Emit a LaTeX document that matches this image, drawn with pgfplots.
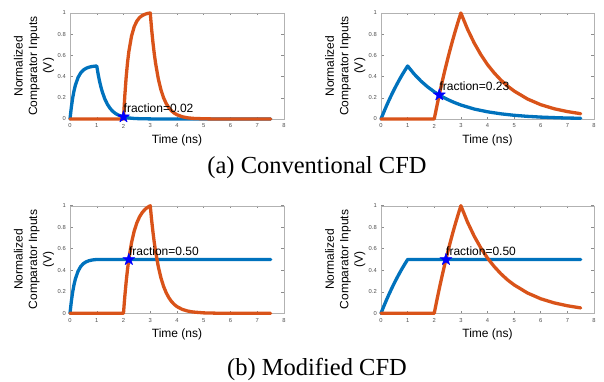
\documentclass[border=0pt]{standalone}
\usepackage{fontspec}
\setmainfont{Liberation Sans}
\newfontfamily\capfont{Liberation Serif}
\usepackage{pgfplots}
\pgfplotsset{compat=1.18}
\definecolor{mblue}{RGB}{0,114,189}
\definecolor{morange}{RGB}{217,83,25}
\pgfdeclareplotmark{pentagram}{%
  \pgfpathmoveto{\pgfpointpolar{90}{\pgfplotmarksize}}%
  \pgfpathlineto{\pgfpointpolar{126}{0.382*\pgfplotmarksize}}%
  \pgfpathlineto{\pgfpointpolar{162}{\pgfplotmarksize}}%
  \pgfpathlineto{\pgfpointpolar{198}{0.382*\pgfplotmarksize}}%
  \pgfpathlineto{\pgfpointpolar{234}{\pgfplotmarksize}}%
  \pgfpathlineto{\pgfpointpolar{270}{0.382*\pgfplotmarksize}}%
  \pgfpathlineto{\pgfpointpolar{306}{\pgfplotmarksize}}%
  \pgfpathlineto{\pgfpointpolar{342}{0.382*\pgfplotmarksize}}%
  \pgfpathlineto{\pgfpointpolar{18}{\pgfplotmarksize}}%
  \pgfpathlineto{\pgfpointpolar{54}{0.382*\pgfplotmarksize}}%
  \pgfpathclose
  \pgfusepathqfillstroke
}
\pgfplotsset{cfd/.style={
  scale only axis, anchor=south west,
  xmin=0, xmax=8, ymin=0, ymax=1,
  xtick={0,1,...,8}, ytick={0,0.2,0.4,0.6,0.8,1},
  axis line style={black!30},
  tick style={black!45, line width=0.5pt},
  major tick length=2.5pt,
  tick align=inside,
  clip=false,
  /pgf/number format/assume math mode=true,
  ticklabel style={font=\fontsize{5.8}{6}\selectfont, text=black!70, inner sep=0pt},
  xticklabel style={anchor=center, yshift=-7pt},
  yticklabel style={anchor=east, xshift=-4pt},
  xlabel={Time (ns)},
  xlabel style={font=\fontsize{12}{14}\selectfont, at={(axis description cs:0.5,0)}, anchor=center, yshift=-21pt},
  ylabel={Normalized\\Comparator Inputs\\(V)},
  ylabel style={font=\fontsize{12}{14.5}\selectfont, align=center, at={(axis description cs:-0.168,0.5)}, anchor=center},
  every axis plot/.append style={line width=3.3pt, line join=round, line cap=round},
}}
\tikzset{frac/.style={anchor=base west, font=\fontsize{12}{14}\selectfont, inner sep=0pt, yshift=4.5pt}}
\begin{document}
\begin{tikzpicture}
\useasboundingbox (0,0) rectangle (604pt,381pt);
% (a) left
\begin{axis}[cfd, at={(70pt,262pt)}, width=214pt, height=106pt]
\addplot[mblue] coordinates {(0,0) (0.05,0.111) (0.1,0.198) (0.15,0.266) (0.2,0.318) (0.3,0.391) (0.4,0.435) (0.5,0.462) (0.6,0.478) (0.7,0.488) (0.8,0.494) (0.9,0.498) (1,0.5) (1.05,0.426) (1.1,0.362) (1.15,0.308) (1.2,0.262) (1.3,0.190) (1.4,0.138) (1.5,0.100) (1.6,0.072) (1.7,0.052) (1.8,0.038) (1.9,0.028) (2.0,0.020) (2.2,0.010) (2.4,0.005) (2.6,0.003) (3.0,0.001) (3.5,0) (7.5,0)};
\addplot[morange] coordinates {(0,0) (2,0) (2.02,0.095) (2.05,0.223) (2.1,0.396) (2.15,0.531) (2.2,0.636) (2.3,0.782) (2.4,0.871) (2.5,0.924) (2.6,0.957) (2.7,0.976) (2.8,0.988) (2.9,0.996) (3,1) (3.05,0.851) (3.1,0.724) (3.15,0.616) (3.2,0.525) (3.3,0.380) (3.4,0.275) (3.5,0.199) (3.6,0.144) (3.7,0.105) (3.8,0.076) (3.9,0.055) (4.0,0.040) (4.2,0.021) (4.4,0.011) (4.6,0.006) (5.0,0.002) (5.5,0) (7.5,0)};
\addplot[only marks, mark=pentagram, mark size=6.3pt, line width=0.5pt, mark options={draw=blue, fill=blue}] coordinates {(2.0,0.02)};
\node[frac] at (axis cs:2.0,0.02) {fraction=0.02};
\end{axis}
% (a) right
\begin{axis}[cfd, at={(381pt,262pt)}, width=213pt, height=106pt]
\addplot[mblue] coordinates {(0,0) (0.1,0.062) (0.2,0.121) (0.3,0.177) (0.4,0.230) (0.5,0.281) (0.6,0.329) (0.7,0.375) (0.8,0.419) (0.9,0.460) (1,0.5) (1.25,0.423) (1.5,0.358) (1.75,0.303) (2.0,0.257) (2.25,0.217) (2.5,0.184) (2.75,0.156) (3.0,0.132) (3.5,0.094) (4.0,0.068) (4.5,0.049) (5.0,0.035) (5.5,0.025) (6.0,0.018) (6.5,0.013) (7.0,0.009) (7.5,0.007)};
\addplot[morange] coordinates {(0,0) (2,0) (2.1,0.124) (2.2,0.242) (2.3,0.354) (2.4,0.461) (2.5,0.562) (2.6,0.659) (2.7,0.751) (2.8,0.838) (2.9,0.921) (3,1) (3.25,0.847) (3.5,0.717) (3.75,0.607) (4.0,0.513) (4.25,0.435) (4.5,0.368) (4.75,0.311) (5.0,0.264) (5.5,0.189) (6.0,0.135) (6.5,0.097) (7.0,0.070) (7.5,0.050)};
\addplot[only marks, mark=pentagram, mark size=6.3pt, line width=0.5pt, mark options={draw=blue, fill=blue}] coordinates {(2.19,0.227)};
\node[frac] at (axis cs:2.19,0.227) {fraction=0.23};
\end{axis}
% (b) left
\begin{axis}[cfd, at={(70pt,67.7pt)}, width=214pt, height=107.6pt]
\addplot[mblue] coordinates {(0,0) (0.05,0.111) (0.1,0.198) (0.15,0.266) (0.2,0.318) (0.3,0.391) (0.4,0.435) (0.5,0.462) (0.6,0.478) (0.7,0.488) (0.8,0.494) (0.9,0.498) (1,0.5) (7.5,0.5)};
\addplot[morange] coordinates {(0,0) (2,0) (2.02,0.068) (2.05,0.159) (2.1,0.294) (2.15,0.408) (2.2,0.505) (2.3,0.656) (2.4,0.764) (2.5,0.841) (2.6,0.897) (2.7,0.936) (2.8,0.965) (2.9,0.985) (3,1) (3.05,0.870) (3.1,0.758) (3.15,0.659) (3.2,0.574) (3.3,0.435) (3.4,0.329) (3.5,0.249) (3.6,0.189) (3.7,0.143) (3.8,0.108) (3.9,0.082) (4.0,0.062) (4.2,0.036) (4.4,0.021) (4.6,0.012) (5.0,0.004) (5.5,0.001) (6,0) (7.5,0)};
\addplot[only marks, mark=pentagram, mark size=6.3pt, line width=0.5pt, mark options={draw=blue, fill=blue}] coordinates {(2.2,0.5)};
\node[frac] at (axis cs:2.2,0.5) {fraction=0.50};
\end{axis}
% (b) right
\begin{axis}[cfd, at={(381pt,67.7pt)}, width=213pt, height=107.6pt]
\addplot[mblue] coordinates {(0,0) (0.1,0.062) (0.2,0.121) (0.3,0.177) (0.4,0.230) (0.5,0.281) (0.6,0.329) (0.7,0.375) (0.8,0.419) (0.9,0.460) (1,0.5) (7.5,0.5)};
\addplot[morange] coordinates {(0,0) (2,0) (2.1,0.124) (2.2,0.242) (2.3,0.354) (2.4,0.461) (2.5,0.562) (2.6,0.659) (2.7,0.751) (2.8,0.838) (2.9,0.921) (3,1) (3.25,0.847) (3.5,0.717) (3.75,0.607) (4.0,0.513) (4.25,0.435) (4.5,0.368) (4.75,0.311) (5.0,0.264) (5.5,0.189) (6.0,0.135) (6.5,0.097) (7.0,0.070) (7.5,0.050)};
\addplot[only marks, mark=pentagram, mark size=6.3pt, line width=0.5pt, mark options={draw=blue, fill=blue}] coordinates {(2.44,0.5)};
\node[frac] at (axis cs:2.44,0.5) {fraction=0.50};
\end{axis}
\node[anchor=base, font=\capfont\fontsize{24.5}{28}\selectfont, inner sep=0pt] at (317pt,207.4pt) {(a) Conventional CFD};
\node[anchor=base, font=\capfont\fontsize{24.5}{28}\selectfont, inner sep=0pt] at (317pt,6pt) {(b) Modified CFD};
\end{tikzpicture}
\end{document}
